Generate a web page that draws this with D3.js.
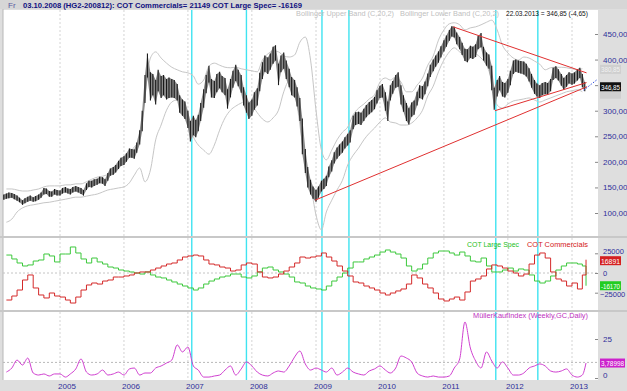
<!DOCTYPE html>
<html><head><meta charset="utf-8">
<script src="https://cdn.jsdelivr.net/npm/d3@7"></script>
<style>body{margin:0;background:#fff}svg{display:block;font-family:"Liberation Sans",Arial,sans-serif}</style>
</head><body><svg id="c" width="627" height="391"></svg>
<script>
// ---------- DATA ----------
// semi-monthly price bars (HG copper, cents), from 15 Feb 2004 to 15 Mar 2013
const priceHi = [136,138,140,139,137,134,130,125,129,132,134,131,133,136,140,149,148,143,142,147,145,144,149,151,148,147,151,153,151,149,145,158,163,163,166,167,171,170,166,178,187,190,194,202,208,211,217,226,225,224,238,262,300,370,412,375,372,360,380,368,370,362,365,362,360,352,330,322,318,300,280,290,282,292,315,342,370,388,362,358,372,376,368,364,342,362,378,390,380,370,346,330,316,322,336,344,374,395,408,404,412,425,428,392,408,414,398,382,366,360,346,325,285,225,190,165,152,145,152,163,167,173,191,203,219,228,234,240,248,255,262,290,297,298,296,304,311,317,321,327,340,349,352,336,318,350,358,370,375,350,330,315,305,316,320,337,350,348,357,373,390,400,408,416,426,438,447,458,465,464,453,444,433,421,420,427,425,430,446,452,425,414,410,388,345,360,368,356,354,362,378,398,400,398,397,396,392,383,372,360,353,350,354,356,354,362,384,387,381,372,364,370,375,373,375,381,384,372,356];
const priceLo = [126,128,129,130,127,124,121,116,119,122,124,122,123,126,130,136,137,132,132,136,134,134,138,140,138,136,140,142,140,137,134,145,151,150,153,155,158,157,153,163,173,175,179,186,192,194,200,208,208,206,218,234,260,315,365,320,330,312,338,325,330,322,325,326,325,320,296,290,284,266,240,252,248,260,280,306,334,355,326,325,336,344,336,330,304,326,345,358,348,335,310,296,284,290,302,310,338,362,376,372,380,392,398,350,375,382,362,346,330,326,308,280,215,178,150,136,128,122,130,142,147,153,170,181,197,206,212,218,226,232,238,264,272,274,272,280,287,293,297,303,314,325,326,300,280,320,333,345,347,312,298,280,273,288,292,310,325,322,332,348,366,377,386,394,404,416,425,437,445,443,430,420,409,397,395,403,401,405,420,424,398,388,382,340,302,328,340,328,326,335,350,372,376,374,373,371,367,357,345,333,328,325,330,332,331,338,360,364,359,349,341,347,353,351,353,359,364,346,338];
// monthly Bollinger bands (C,20,2), 1 Mar 2004 .. 1 Mar 2013
const bandUpper = [147,147,145,143,143,145,147,151,153,153,153,155,155,157,157,161,166,170,172,176,188,200,210,219,229,247,331,403,415,403,393,385,380,376,374,368,352,360,387,393,389,385,384,385,382,380,378,376,399,411,417,415,407,405,409,434,444,399,301,223,204,223,243,258,268,292,305,313,323,331,356,364,360,366,356,337,337,350,364,389,407,438,458,470,472,468,458,462,464,468,473,477,458,428,413,403,399,405,403,397,391,380,384,385,385,384,382,380,382];
const bandLower = [82,88,102,110,114,116,118,120,121,123,125,127,129,131,131,133,135,137,141,145,147,149,151,159,174,188,161,184,243,272,301,317,321,315,282,249,233,223,215,233,262,286,301,309,315,319,311,296,284,278,286,301,337,358,341,272,194,155,96,67,102,125,145,164,194,213,227,243,256,266,278,286,278,276,272,272,276,286,301,329,348,376,399,415,423,415,409,413,411,403,389,360,311,305,313,319,321,323,325,321,317,321,325,329,333,337,339,341,337];
// monthly COT net positions (contracts), last entry = 22 Mar 2013
const cotLargeSpec = [22800,17800,12700,8900,10200,15200,16500,24100,21600,14000,24100,24100,33000,25400,17800,12700,19000,14000,11400,7600,6300,3800,2500,1300,0,-1300,1300,-2500,-5100,-6300,-8900,-11400,-14000,-16500,-19000,-21600,-19000,-14000,-10200,-7600,-5100,-3800,-1300,-1300,-5100,-6300,-3800,1300,6300,7600,3800,1300,-1300,-5100,-11400,-12700,-16500,-19000,-20300,-21600,-16500,-10200,-5100,0,6300,14000,14000,17800,20300,22800,26600,29200,26600,24100,19000,8900,2500,5100,11400,19000,25400,27900,27900,25400,22800,26600,21600,15200,14000,19000,8900,1300,1300,3800,6300,2500,5100,3800,-2500,-10200,-12700,-10200,-3800,3800,8900,12700,12700,11400,8900,-16170];
const cotCommercials = [-34300,-29200,-21600,-8900,-2500,-19000,-27900,-31700,-25400,-29200,-30500,-34300,-38100,-30500,-21600,-15200,-12700,-14000,-10200,-8900,-5100,-5100,-3800,-2500,0,1300,1300,3800,6300,8900,11400,12700,16500,20300,21600,22800,21600,16500,11400,10200,7600,6300,2500,3800,10200,12700,11400,1300,-5100,-6300,-5100,-1300,2500,7600,12700,20300,19000,20300,21600,25400,20300,15200,8900,2500,-3800,-11400,-12700,-16500,-19000,-21600,-25400,-27900,-25400,-22800,-20300,-14000,-2500,-6300,-14000,-19000,-25400,-33000,-35500,-33000,-30500,-34300,-24100,-10200,-7600,-3800,5100,10200,8900,6300,2500,0,-3800,-1300,11400,22800,25400,19000,1300,-7600,-10200,-16500,-12700,-20300,-2500,16891];
// monthly MüllerKaufIndex values
const mkIndex = [3.8,6.4,11.5,8.3,12.8,3.2,1.9,2.6,1.3,2.6,2.6,0.6,2.6,5.8,12.2,3.8,1.9,2.6,5.1,1.9,2.6,3.8,1.9,5.8,6.4,1.9,3.2,3.2,6.4,7.7,9.6,11.5,21.2,16.7,19.9,7.7,5.1,0.6,0.6,1.3,1.9,5.1,7.7,1.9,5.8,10.3,7.7,3.8,1.9,1.3,3.2,4.5,3.8,7.7,13.5,17.3,9.0,5.1,6.4,5.1,3.8,6.4,1.9,3.8,6.4,3.8,2.6,1.9,4.5,5.8,7.7,5.1,3.2,6.4,14.1,12.8,10.3,3.2,1.3,0.6,1.3,0.6,0.6,1.3,6.4,12.2,35.9,19.2,10.9,6.4,16.7,10.9,6.4,10.3,6.4,1.9,1.9,3.2,6.4,7.7,9.0,7.7,4.5,3.8,4.5,5.8,1.9,0.6,1.9,9.6];
const trendLines = [
  [["2008-12-26",125],["2013-03-28",347]],
  [["2011-02-23",464],["2013-03-25",374]],
  [["2011-10-19",300],["2013-03-25",355]]
];
const projection = [["2013-03-08",340],["2013-05-25",361]];
const cyanDates = ["2007-01-23","2007-12-01","2009-02-04","2009-07-08","2011-10-24","2012-06-20"];
const years = [2005,2006,2007,2008,2009,2010,2011,2012,2013];
const priceTicks = [100,150,200,250,300,350,400,450];
const priceLabelTicks = [100,150,200,250,300,400,450];
const cotTicks = [25000,0,-25000];
const mkTicks = [25,0];
const lastPrice = 346.85, lastUpper = 380.85, lastLower = 334.2, lastMk = "3,78998";
const headerText = "03.10.2008 (HG2-200812):  COT Commercials= 21149  COT Large Spec= -16169";

// ---------- LAYOUT ----------
const W = 627, H = 391, L = 3, R = 598;
const main = {t:10, b:236}, cot = {t:238, b:310}, ind = {t:312, b:380};
const svg = d3.select("#c");
const parse = d3.timeParse("%Y-%m-%d");
const x = d3.scaleTime().domain([new Date(2005,0,1), new Date(2013,0,1)]).range([60, 572]);
const yP = d3.scaleLinear().domain([100,450]).range([213,34]);
const yC = d3.scaleLinear().domain([-25000,25000]).range([292.7,253.3]);
const yM = d3.scaleLinear().domain([0,25]).range([378,339]);

const barDates = priceHi.map((_, i) => new Date(2004, 1 + Math.floor((i + 1) / 2), i % 2 === 0 ? 15 : 1));
const monthDates = d3.range(109).map(k => new Date(2004, 2 + k, 1)).concat([new Date(2013,2,22)]);

// backgrounds
svg.append("rect").attr("width",W).attr("height",H).attr("fill","#dedede");
[main, cot, ind].forEach(p => svg.append("rect").attr("x",L).attr("y",p.t).attr("width",R-L).attr("height",p.b-p.t).attr("fill","#fff"));
svg.append("rect").attr("x",0).attr("y",0).attr("width",W).attr("height",9).attr("fill","#d6d6d6");
svg.append("line").attr("x1",L).attr("x2",L).attr("y1",9).attr("y2",380).attr("stroke","#b8b8b8");

const defs = svg.append("defs");
[["cm",main],["cc",cot],["ci",ind]].forEach(([id,p]) => defs.append("clipPath").attr("id",id).append("rect").attr("x",L).attr("y",p.t).attr("width",R-L).attr("height",p.b-p.t));

// year gridlines
[main, cot, ind].forEach(p => {
  svg.append("g").selectAll("line").data(years).join("line")
    .attr("x1", d => x(new Date(d,0,1))).attr("x2", d => x(new Date(d,0,1)))
    .attr("y1", p.t).attr("y2", p.b).attr("stroke","#d4d4d4").attr("stroke-dasharray","2,2");
});
// horizontal reference lines
svg.append("line").attr("x1",L).attr("x2",R).attr("y1",yC(0)).attr("y2",yC(0)).attr("stroke","#c4c4c4").attr("stroke-dasharray","2,2");
svg.append("line").attr("x1",L).attr("x2",R).attr("y1",yM(10)).attr("y2",yM(10)).attr("stroke","#b8b8b8").attr("stroke-dasharray","2,2");

// cyan markers
svg.append("g").selectAll("line").data(cyanDates).join("line")
  .attr("x1", d => x(parse(d))).attr("x2", d => x(parse(d)))
  .attr("y1", main.t).attr("y2", ind.b).attr("stroke","#3fe3f0").attr("stroke-width",1.4);

// ---------- MAIN PANEL ----------
const gm = svg.append("g").attr("clip-path","url(#cm)");
const bandLine = d3.line().x((d,i) => x(monthDates[i])).y(d => yP(d)).curve(d3.curveMonotoneX);
gm.append("path").attr("d", bandLine(bandUpper)).attr("fill","none").attr("stroke","#c6c6c6").attr("stroke-width",1);
gm.append("path").attr("d", bandLine(bandLower)).attr("fill","none").attr("stroke","#c6c6c6").attr("stroke-width",1);
// price range band + bars
const rangeArea = d3.area().x((d,i) => x(barDates[i])).y0((d,i) => yP(priceLo[i])).y1(d => yP(d));
gm.append("path").attr("d", rangeArea(priceHi)).attr("fill","#8a8a8a");
gm.append("g").selectAll("line").data(priceHi).join("line")
  .attr("x1",(d,i) => x(barDates[i])).attr("x2",(d,i) => x(barDates[i]))
  .attr("y1", d => yP(d)).attr("y2", (d,i) => yP(priceLo[i]))
  .attr("stroke", "#1a1a1a").attr("stroke-width",1.1);
gm.append("g").selectAll("line").data(trendLines).join("line")
  .attr("x1", d => x(parse(d[0][0]))).attr("y1", d => yP(d[0][1]))
  .attr("x2", d => x(parse(d[1][0]))).attr("y2", d => yP(d[1][1]))
  .attr("stroke","#e03030").attr("stroke-width",1);
svg.append("line")
  .attr("x1", x(parse(projection[0][0]))).attr("y1", yP(projection[0][1]))
  .attr("x2", x(parse(projection[1][0]))).attr("y2", yP(projection[1][1]))
  .attr("stroke","#3050e0").attr("stroke-dasharray","1.5,1.5");

// ---------- COT PANEL ----------
const gc = svg.append("g").attr("clip-path","url(#cc)");
const cotLine = d3.line().x((d,i) => x(monthDates[i])).y(d => yC(d)).curve(d3.curveStepAfter);
gc.append("path").attr("d", cotLine(cotLargeSpec)).attr("fill","none").attr("stroke","#3cc83c").attr("stroke-width",1);
gc.append("path").attr("d", cotLine(cotCommercials)).attr("fill","none").attr("stroke","#d42a2a").attr("stroke-width",1);

// ---------- INDICATOR PANEL ----------
const gi = svg.append("g").attr("clip-path","url(#ci)");
const mkLine = d3.line().x((d,i) => x(monthDates[i])).y(d => yM(d)).curve(d3.curveMonotoneX);
gi.append("path").attr("d", mkLine(mkIndex)).attr("fill","none").attr("stroke","#d040d0").attr("stroke-width",1);

// panel separators
[237, 311].forEach(y => svg.append("line").attr("x1",0).attr("x2",W).attr("y1",y).attr("y2",y).attr("stroke","#c8c8c8").attr("stroke-width",2));

// ---------- AXES ----------
const axisColor = "#2e2e9a";
const yAxisP = d3.axisRight(yP).tickValues(priceTicks).tickSize(3).tickFormat(d => priceLabelTicks.includes(d) ? d3.format(".2f")(d).replace(".",",") : "");
const ga = svg.append("g").attr("transform",`translate(${R-3},0)`).call(yAxisP);
ga.select(".domain").remove();
ga.selectAll("line").attr("stroke","#888");
ga.selectAll("text").attr("fill",axisColor).attr("font-size",8).attr("x",8);

const yAxisC = d3.axisRight(yC).tickValues(cotTicks).tickSize(3).tickFormat(d3.format("d"));
const gca = svg.append("g").attr("transform",`translate(${R-3},0)`).call(yAxisC);
gca.select(".domain").remove();
gca.selectAll("line").attr("stroke","#888");
gca.selectAll("text").attr("fill",axisColor).attr("font-size",7.5).attr("x", d => d < 0 ? 5 : 8)
  .attr("dy", d => d > 0 ? "0.05em" : (d < 0 ? "0.55em" : "0.32em"));

const yAxisM = d3.axisRight(yM).tickValues(mkTicks).tickSize(3);
const gma = svg.append("g").attr("transform",`translate(${R-3},0)`).call(yAxisM);
gma.select(".domain").remove();
gma.selectAll("line").attr("stroke","#888");
gma.selectAll("text").attr("fill",axisColor).attr("font-size",8).attr("x",8).attr("dy", d => d === 0 ? "-0.1em" : "0.32em");

// year labels
svg.append("g").selectAll("text").data(years).join("text")
  .attr("x", d => x(new Date(d,0,1)) + 7).attr("y", 389).attr("text-anchor","middle")
  .attr("font-size",8).attr("fill",axisColor).text(d => d);

// value boxes
function box(y, txt, bg, fg, w=21) {
  svg.append("rect").attr("x",600).attr("y",y-4.5).attr("width",w).attr("height",9).attr("fill",bg);
  if (txt) svg.append("text").attr("x",601).attr("y",y+3).attr("font-size",7.5).attr("fill",fg)
    .attr("textLength", w-2).attr("lengthAdjust","spacingAndGlyphs").text(txt);
}
box(yP(lastUpper), d3.format(".2f")(lastUpper).replace(".",","), "#cfcfcf", "#f2f2f2");
box(yP(lastLower) + 1, null, "#cfcfcf", "#f2f2f2");
box(yP(lastPrice), d3.format(".2f")(lastPrice).replace(".",","), "#111", "#fff");
box(yC(cotCommercials[cotCommercials.length-1]) + 1, String(cotCommercials[cotCommercials.length-1]), "#d42020", "#fff");
box(yC(cotLargeSpec[cotLargeSpec.length-1]), String(cotLargeSpec[cotLargeSpec.length-1]), "#22cc22", "#fff");
box(yM(mkIndex[mkIndex.length-1]), lastMk, "#cc22cc", "#fff", 25);

// ---------- TEXTS ----------
svg.append("text").attr("x",8).attr("y",8).attr("font-size",8).attr("fill","#5a5aa0").text("Fr");
svg.append("text").attr("x",23).attr("y",8).attr("font-size",8).attr("font-weight","bold").attr("fill","#101080")
  .attr("textLength",279).attr("lengthAdjust","spacingAndGlyphs").text(headerText);
svg.append("text").attr("x",296).attr("y",16).attr("font-size",8).attr("fill","#c0c0c0")
  .attr("textLength",98).attr("lengthAdjust","spacingAndGlyphs").text("Bollinger Upper Band (C,20,2)");
svg.append("text").attr("x",400).attr("y",16).attr("font-size",8).attr("fill","#c0c0c0")
  .attr("textLength",99).attr("lengthAdjust","spacingAndGlyphs").text("Bollinger Lower Band (C,20,2)");
svg.append("text").attr("x",506).attr("y",16).attr("font-size",8).attr("fill","#111")
  .attr("textLength",82).attr("lengthAdjust","spacingAndGlyphs").text("22.03.2013 = 346,85 (-4,65)");
svg.append("text").attr("x",467).attr("y",247).attr("font-size",8).attr("fill","#22c022")
  .attr("textLength",52).attr("lengthAdjust","spacingAndGlyphs").text("COT Large Spec");
svg.append("text").attr("x",527).attr("y",247).attr("font-size",8).attr("fill","#d42020")
  .attr("textLength",61).attr("lengthAdjust","spacingAndGlyphs").text("COT Commercials");
svg.append("text").attr("x",473).attr("y",318).attr("font-size",8).attr("fill","#c030c0")
  .attr("textLength",115).attr("lengthAdjust","spacingAndGlyphs").text("MüllerKaufIndex (Weekly,GC,Daily)");
</script></body></html>
